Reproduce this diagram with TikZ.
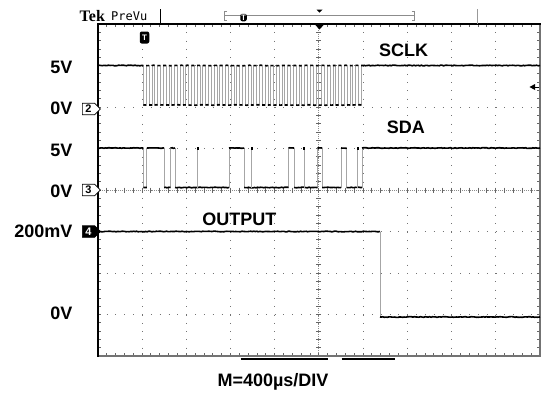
\documentclass[tikz,border=0pt]{standalone}
\usepackage{fontspec}
\setmainfont{Liberation Sans}
\newfontfamily\tekfont{Liberation Serif}
\newfontfamily\prevufont{DejaVu Sans Mono}
\usetikzlibrary{shapes.symbols,decorations.pathmorphing}

\tikzset{trace/.style = {line width=1.6pt,
                         black,
                         decorate,
                         decoration = {random steps, segment length=1.5pt, amplitude=0.35pt}},
         ramp/.style = {line width=0.7pt, black!35},
         gdot/.style = {line width=1pt, black!55},
         gtick/.style = {line width=0.7pt, black!60},
         lvl/.style = {font=\fontsize{18}{20}\selectfont\bfseries, inner sep=0pt},
         chmark/.style = {shape=signal,
                          signal to=east,
                          draw,
                          line width=0.6pt,
                          inner sep=0.5pt,
                          minimum height=11.5pt,
                          minimum width=18pt,
                          font=\fontsize{11}{11}\selectfont\bfseries},
         trigmark/.style = {fill=black,
                            text=white,
                            rounded corners=2pt,
                            inner sep=0pt,
                            font=\fontsize{8}{8}\selectfont\bfseries}}

\begin{document}
\begin{tikzpicture}[x=1pt, y=-1pt]
  \useasboundingbox (0,0) rectangle (542,394);
  \pgfmathsetseed{7}

  % grid
  \foreach \i in {1,...,9}
    \draw[gdot, dash pattern=on 1pt off 7.3pt] ({97.8+44.2*\i},24) -- ({97.8+44.2*\i},356);
  \foreach \j in {1,...,7}
    \draw[gdot, dash pattern=on 1pt off 7.84pt] (97.8,{24+41.5*\j}) -- (540,{24+41.5*\j});
  \draw[black!45, line width=0.8pt, dash pattern=on 1pt off 1pt] (318.8,24) -- (318.8,356);
  \draw[black!45, line width=0.8pt, dash pattern=on 1pt off 1pt] (97.8,190) -- (540,190);
  \foreach \k in {1,...,49} {
    \draw[gtick] ({97.8+8.84*\k},24) -- ++(0,3);
    \draw[gtick] ({97.8+8.84*\k},356) -- ++(0,-3);
    \draw[gtick] ({97.8+8.84*\k},187.5) -- ++(0,5);
  }
  \foreach \k in {1,...,39} {
    \draw[gtick] (97.8,{24+8.3*\k}) -- ++(3,0);
    \draw[gtick] (540,{24+8.3*\k}) -- ++(-3,0);
    \draw[gtick] (316.3,{24+8.3*\k}) -- ++(5,0);
  }

  % frame
  \draw[line width=2pt, black!55] (540,24) -- (540,356) -- (97.8,356);
  \draw[line width=2.5pt, line cap=rect] (97.8,356) -- (97.8,24) -- (540,24);
  \draw[line width=1.8pt] (240.7,358.8) -- (328,358.8);
  \draw[line width=1.8pt] (341.7,358.8) -- (395,358.8);

  % header
  \node[font=\tekfont\fontsize{16}{16}\selectfont\bfseries, anchor=west, inner sep=0pt] (tek) at (79.5,16) {Tek};
  \node[font=\prevufont\fontsize{12}{12}\selectfont, anchor=west, inner sep=0pt] (prevu) at (111,16) {PreVu};
  \draw[line width=1pt] (160.7,9) -- (160.7,24);
  \draw[line width=0.8pt, black!40] (477,9) -- (477,24);
  \draw[line width=1pt, black!45] (227,11) -- (224.7,11) -- (224.7,20.5) -- (227,20.5);
  \draw[line width=1pt, black!45] (411.7,11) -- (414,11) -- (414,20.5) -- (411.7,20.5);
  \draw[line width=1pt, black!45] (224.7,15.5) -- (414,15.5);
  \node[trigmark, minimum width=6.5pt, minimum height=7.5pt] (trigtop) at (243.5,17.5) {T};
  \fill (316.5,9.5) -- (322.5,9.5) -- (319.5,12.5) -- cycle;
  \fill (314.5,24) -- (324.5,24) -- (319.5,29.5) -- cycle;
  \node[trigmark, minimum width=9.5pt, minimum height=12pt] (trig) at (144.5,37.5) {T};
  \fill (529.5,87) -- (535,84) -- (535,90) -- cycle;
  \draw[line width=0.7pt] (535,87) -- (539,87);

  % SCLK
  \draw[ramp] (97.8,65.5) -- (143.4,65.5) -- (143.4,105)
    \foreach \k in {1,...,38} { -- ++(2.8285,0) -- ++(0,-39.5) -- ++(2.8285,0) -- ++(0,39.5) }
    -- (361.2,105) -- (361.2,65.5) -- (540,65.5);
  \foreach \k in {0,...,37} {
    \draw[trace] ({143.4+5.657*\k},105) -- ++(2.8,0);
    \draw[trace] ({146.2+5.657*\k},65.5) -- ++(2.8,0);
  }
  \draw[trace] (358.4,105) -- (361.2,105);
  \draw[trace] (97.8,65.5) -- (143.4,65.5);
  \draw[trace] (361.2,65.5) -- (540,65.5);

  % SDA
  \draw[ramp] (97.8,148) -| (143.4,187.5) -| (146.8,148) -| (164.1,187.5) -| (170.5,148)
    -| (175,187.5) -| (229,148) -| (244.2,187.5) -| (288.5,148) -| (294,187.5)
    -| (317.5,148) -| (322.2,187.5) -| (341,148) -| (346.7,187.5) -| (362,148) -- (540,148);
  \foreach \a/\b in {97.8/143.4, 146.8/164.1, 170.5/175, 229/244.2, 288.5/294,
                     317.5/322.2, 341/346.7, 362/540}
    \draw[trace] (\a,148) -- (\b,148);
  \foreach \a/\b in {143.4/146.8, 164.1/170.5, 175/229, 244.2/288.5, 294/317.5,
                     322.2/341, 346.7/362}
    \draw[trace] (\a,187.5) -- (\b,187.5);
  \foreach \s in {197.5, 251.5, 304.2, 357.5} {
    \draw[ramp] (\s,187.5) -- (\s,148);
    \fill (\s-1,147) rectangle (\s+1,150);
  }

  % OUTPUT
  \draw[ramp] (380,231.5) -- (380,316);
  \draw[trace] (97.8,231.5) -- (380,231.5);
  \draw[trace] (380,317) -- (540,317);

  % channel markers
  \node[chmark, fill=white] (ch2) at (88.5,109) {2};
  \node[chmark, fill=white] (ch3) at (88.5,190) {3};
  \node[chmark, fill=black, text=white] (ch4) at (88.5,231.5) {4};

  % labels
  \node[lvl, anchor=east] (sclkhi) at (72.6,67) {5V};
  \node[lvl, anchor=east] (sclklo) at (72.6,108) {0V};
  \node[lvl, anchor=east] (sdahi) at (72.6,150) {5V};
  \node[lvl, anchor=east] (sdalo) at (72.6,191) {0V};
  \node[lvl, anchor=east] (outhi) at (72.6,231) {200mV};
  \node[lvl, anchor=east] (outlo) at (72.6,313) {0V};
  \node[lvl] (sclk) at (403.5,50.6) {SCLK};
  \node[lvl] (sda) at (405.8,127.8) {SDA};
  \node[lvl] (output) at (239.4,219) {OUTPUT};
  \node[lvl] (timebase) at (273,382) {M=400µs/DIV};
\end{tikzpicture}
\end{document}
